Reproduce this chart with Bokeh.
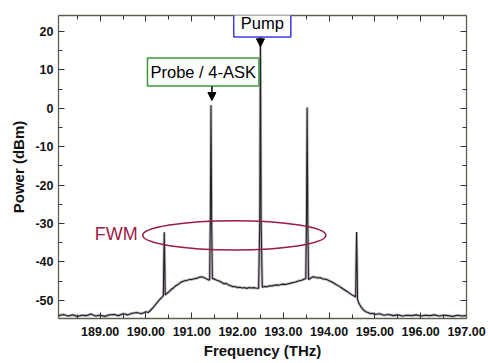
from bokeh.plotting import figure
from bokeh.models import (LinearAxis, FixedTicker, Label, Arrow, NormalHead,
                          Range1d, ColumnDataSource, CustomLabelingPolicy)
from bokeh.embed import file_html
from bokeh.resources import INLINE

# ---- spectrum data ----
freq_thz = [
    188.10, 188.20, 188.30, 188.40, 188.50, 188.60, 188.70, 188.80, 188.90, 189.00,
    189.10, 189.20, 189.30, 189.40, 189.50, 189.60, 189.70, 189.80, 189.90, 190.00,
    190.05, 190.10, 190.15, 190.20, 190.25, 190.30, 190.35, 190.38, 190.39, 190.40,
    190.41, 190.42, 190.45, 190.50, 190.55, 190.60, 190.65, 190.70, 190.75, 190.80,
    190.85, 190.90, 190.95, 191.00, 191.05, 191.10, 191.15, 191.20, 191.25, 191.30,
    191.35, 191.39, 191.405, 191.42, 191.435, 191.45, 191.50, 191.55, 191.60, 191.65,
    191.70, 191.75, 191.80, 191.85, 191.90, 191.95, 192.00, 192.05, 192.10, 192.15,
    192.20, 192.25, 192.30, 192.35, 192.40, 192.46, 192.485, 192.50, 192.515, 192.54,
    192.60, 192.65, 192.70, 192.75, 192.80, 192.85, 192.90, 192.95, 193.00, 193.05,
    193.10, 193.15, 193.20, 193.25, 193.30, 193.35, 193.40, 193.45, 193.49, 193.505,
    193.52, 193.535, 193.55, 193.60, 193.65, 193.70, 193.75, 193.80, 193.85, 193.90,
    193.95, 194.00, 194.05, 194.10, 194.15, 194.20, 194.25, 194.30, 194.35, 194.40,
    194.45, 194.50, 194.55, 194.58, 194.59, 194.60, 194.61, 194.62, 194.65, 194.70,
    194.75, 194.80, 194.85, 194.90, 194.95, 195.00, 195.10, 195.20, 195.30, 195.40,
    195.50, 195.60, 195.70, 195.80, 195.90, 196.00, 196.10, 196.20, 196.30, 196.40,
    196.50, 196.60, 196.70, 196.80, 196.90, 196.99,
]
power_dbm = [
    -54.0, -53.7, -54.1, -53.8, -54.2, -53.9, -54.0, -53.6, -54.1, -53.9,
    -54.2, -53.8, -53.7, -54.0, -53.5, -53.8, -53.4, -53.2, -53.5, -53.0,
    -53.2, -52.6, -52.0, -51.3, -50.5, -49.8, -49.2, -48.8, -40.0, -32.3,
    -40.0, -48.6, -48.3, -47.8, -47.2, -46.8, -46.2, -45.9, -45.4, -45.1,
    -44.9, -44.8, -44.6, -44.6, -44.4, -44.3, -44.1, -43.9, -44.0, -44.3,
    -44.6, -44.8, -30.0, 0.8, -30.0, -44.3, -44.5, -44.8, -45.0, -45.3,
    -45.7, -45.6, -46.0, -46.2, -46.5, -46.4, -46.7, -46.6, -46.8, -46.7,
    -46.9, -46.7, -46.8, -46.7, -46.8, -46.9, -30.0, 16.3, -30.0, -46.6,
    -46.4, -46.5, -46.2, -46.3, -46.1, -46.0, -46.1, -45.9, -45.8, -45.9,
    -45.7, -45.6, -45.4, -45.3, -45.1, -44.9, -44.8, -44.5, -44.4, -30.0,
    0.2, -30.0, -44.6, -44.2, -43.9, -44.0, -44.2, -44.1, -44.4, -44.5,
    -44.6, -44.9, -45.2, -45.5, -45.9, -46.2, -46.6, -47.0, -47.4, -47.8,
    -48.2, -48.6, -48.9, -49.2, -40.0, -32.2, -40.0, -49.8, -50.8, -51.8,
    -52.5, -53.0, -53.2, -53.5, -53.4, -53.7, -53.5, -53.9, -53.7, -54.0,
    -53.8, -54.1, -53.9, -54.0, -53.8, -54.1, -53.9, -54.0, -53.8, -54.1,
    -53.9, -54.0, -54.2, -53.9, -54.1, -54.0,
]

# peaks that are annotated
probe_freq, probe_power = 191.42, 0.8
pump_freq, pump_power = 192.50, 16.3

# ticks
x_ticks = [189, 190, 191, 192, 193, 194, 195, 196, 197]
x_tick_labels = ["189.00", "190.00", "191.00", "192.00", "193.00",
                 "194.00", "195.00", "196.00", "197.00"]
x_minor_ticks = [188.5, 189.5, 190.5, 191.5, 192.5, 193.5, 194.5, 195.5, 196.5]
y_ticks = [-50, -40, -30, -20, -10, 0, 10, 20]
y_tick_labels = ["-50", "-40", "-30", "-20", "-10", "0", "10", "20"]
y_minor_ticks = [-45, -35, -25, -15, -5, 5, 15]

FONT = "Liberation Sans"
FRAME = "#5f5f50"
FWM_COLOR = "#9b1b45"

p = figure(width=488, height=363, output_backend="svg", toolbar_location=None,
           x_range=Range1d(188.09, 197.0), y_range=Range1d(-54.75, 24.15),
           min_border_left=58, min_border_right=22, min_border_top=15,
           min_border_bottom=45)
p.grid.visible = False
p.outline_line_color = None
p.background_fill_color = "white"
p.border_fill_color = "white"


def frame_axis(ax, ticks, minor):
    ax.ticker = FixedTicker(ticks=ticks, minor_ticks=minor)
    ax.axis_line_color = FRAME
    ax.axis_line_width = 1.3
    ax.major_tick_in = 6
    ax.major_tick_out = 0
    ax.minor_tick_in = 4
    ax.minor_tick_out = 0
    ax.major_tick_line_color = "#333333"
    ax.minor_tick_line_color = "#333333"


def style_axis(ax, ticks, minor, labels):
    frame_axis(ax, ticks, minor)
    ax.major_label_overrides = dict(zip(ticks, labels))
    ax.major_label_text_font = FONT
    ax.major_label_text_font_style = "bold"
    ax.major_label_text_font_size = "12.5px"
    ax.major_label_text_color = "#111111"
    ax.axis_label_text_font = FONT
    ax.axis_label_text_font_style = "bold"
    ax.axis_label_text_font_size = "15px"
    ax.axis_label_text_color = "#111111"


xa = p.xaxis[0]
ya = p.yaxis[0]
style_axis(xa, x_ticks, x_minor_ticks, x_tick_labels)
style_axis(ya, y_ticks, y_minor_ticks, y_tick_labels)
xa.axis_label = "Frequency (THz)"
ya.axis_label = "Power (dBm)"
xa.major_label_standoff = 8
xa.axis_label_standoff = 3
ya.major_label_standoff = 5
ya.axis_label_standoff = 5

# mirrored frame axes: tick marks only, no labels drawn
no_labels = CustomLabelingPolicy(
    code="for (const i of Array.from(indices)) { indices.unset(i) }; return indices")
top = LinearAxis()
frame_axis(top, x_ticks, x_minor_ticks)
top.major_label_policy = no_labels
top.major_label_text_font_size = "1px"
top.major_label_standoff = 0
p.add_layout(top, "above")
right = LinearAxis()
frame_axis(right, y_ticks, y_minor_ticks)
right.major_label_policy = no_labels
right.major_label_text_font_size = "1px"
right.major_label_standoff = 0
p.add_layout(right, "right")

src = ColumnDataSource(data=dict(f=freq_thz, pw=power_dbm))
p.line("f", "pw", source=src, line_color="#b9aebd", line_width=2.8, line_alpha=0.9)
p.line("f", "pw", source=src, line_color="#222222", line_width=1.1)

# FWM ellipse and label
p.ellipse(x=[191.93], y=[-33.1], width=4.0, height=7.6,
          fill_color=None, line_color=FWM_COLOR, line_width=1.5)
p.add_layout(Label(x=189.82, y=-32.8, text="FWM", text_align="right",
                   text_baseline="middle", text_font=FONT, text_font_size="18px",
                   text_color=FWM_COLOR))

# Pump label + arrow
p.add_layout(Label(x=pump_freq + 0.04, y=22.2, text="Pump", text_align="center",
                   text_baseline="middle", text_font=FONT, text_font_size="16.5px",
                   text_color="black", border_line_color="#3a3ae6",
                   border_line_width=1.5, background_fill_color="white",
                   padding=(7, 5)))
p.add_layout(Arrow(end=NormalHead(size=8, fill_color="black", line_color="black"),
                   x_start=pump_freq, y_start=pump_power + 2.1,
                   x_end=pump_freq, y_end=pump_power - 0.3,
                   line_color="black", line_width=1.5))

# Probe label + arrow
p.add_layout(Label(x=191.25, y=9.45, text="Probe / 4-ASK", text_align="center",
                   text_baseline="middle", text_font=FONT, text_font_size="16.5px",
                   text_color="black", border_line_color="#3c9a3c",
                   border_line_width=1.5, background_fill_color="white",
                   padding=(3, 5)))
p.add_layout(Arrow(end=NormalHead(size=8, fill_color="black", line_color="black"),
                   x_start=probe_freq + 0.02, y_start=probe_power + 4.9,
                   x_end=probe_freq + 0.02, y_end=probe_power + 1.2,
                   line_color="black", line_width=1.5))

open("out.html", "w").write(file_html(p, INLINE))
